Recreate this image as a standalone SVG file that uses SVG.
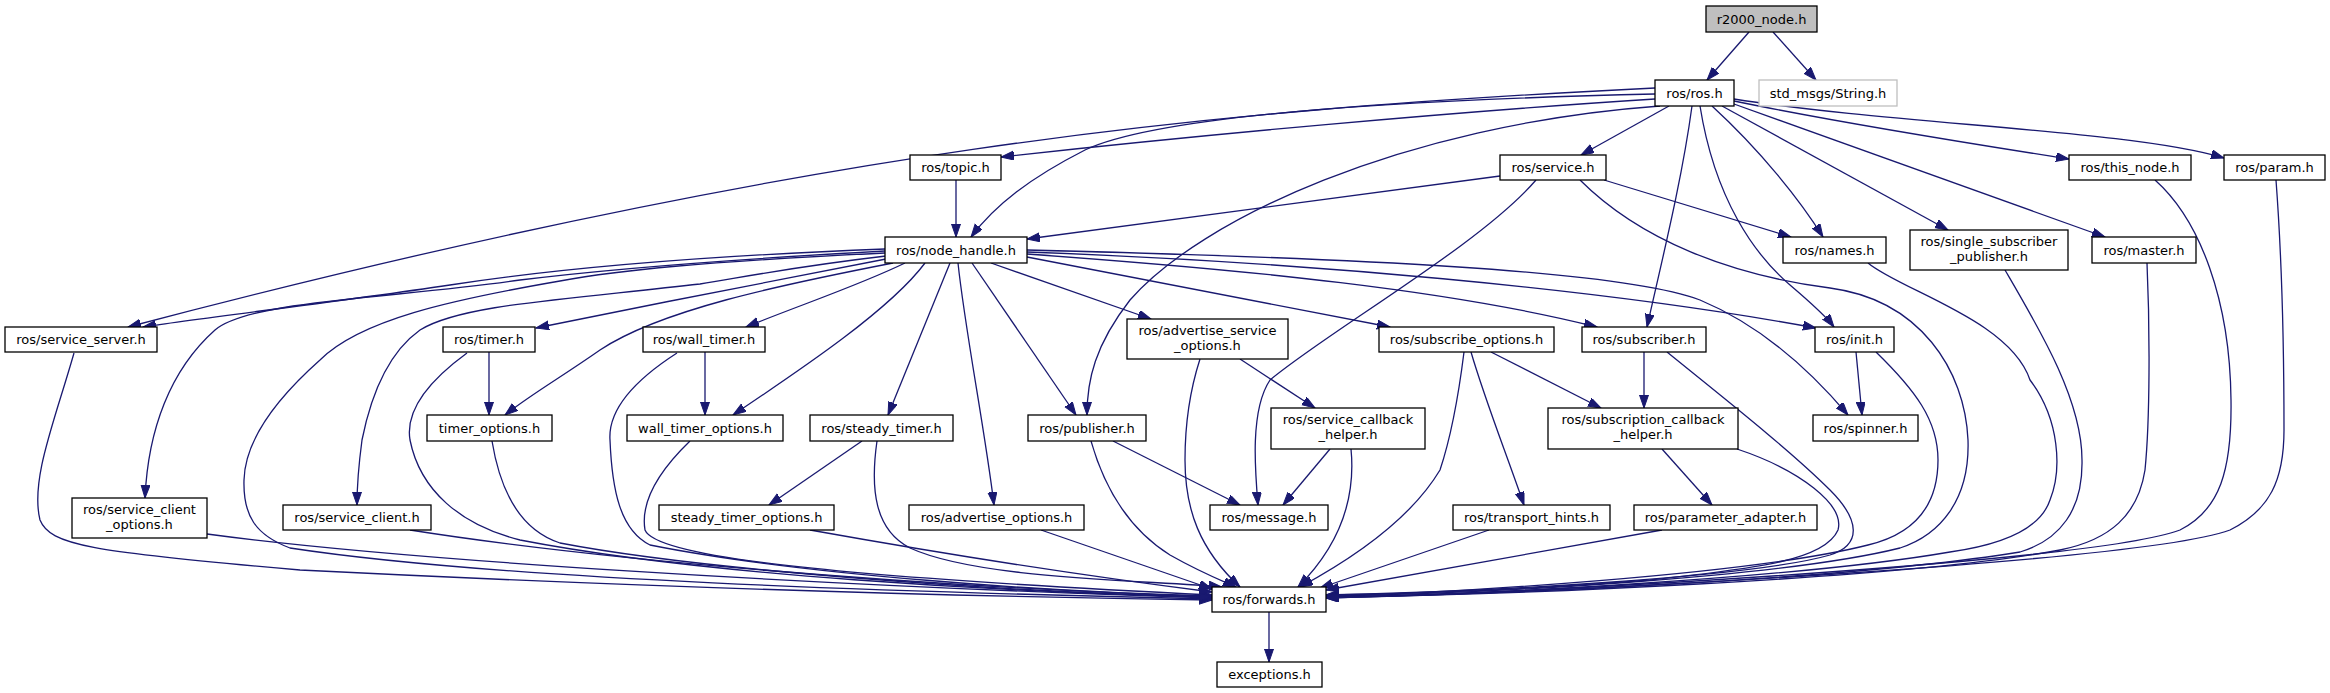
<svg xmlns="http://www.w3.org/2000/svg" width="2330" height="693" viewBox="0 0 2330 693">
<defs>
<marker id="ah" markerUnits="userSpaceOnUse" markerWidth="14" markerHeight="10" refX="13" refY="4.5" orient="auto">
<path d="M0,0 L13,4.5 L0,9 z" fill="#191970" stroke="#191970" stroke-width="1"/>
</marker>
</defs>
<style>
.n rect{fill:#ffffff;stroke:#000000;stroke-width:1.3}
.n text{font-family:"DejaVu Sans","Liberation Sans",sans-serif;font-size:13px;fill:#000000;text-anchor:middle}
#r2000 rect{fill:#bfbfbf}
#string rect{stroke:#bfbfbf}
#edges path{fill:none;stroke:#191970;stroke-width:1.3;marker-end:url(#ah)}
</style>
<rect width="2330" height="693" fill="#ffffff"/>
<g id="edges">
<path d="M1749,32 L1707,80"/>
<path d="M1773,32 L1816,80"/>
<path d="M1655,99 C1450,112 1200,135 1001,157"/>
<path d="M1655,94 C1400,100 1160,115 1085,150 C1030,178 995,205 971,237"/>
<path d="M1655,88 C1200,110 800,150 128,327"/>
<path d="M1660,106 C1400,125 1200,220 1130,300 C1095,345 1087,380 1087,415"/>
<path d="M1669,106 L1581,155"/>
<path d="M1692,106 C1682,180 1662,260 1647,327"/>
<path d="M1700,106 C1715,200 1755,255 1790,285 C1810,302 1825,315 1834,327"/>
<path d="M1712,106 C1760,150 1800,200 1823,237"/>
<path d="M1722,106 L1948,230"/>
<path d="M1734,104 L2105,237"/>
<path d="M1734,101 C1850,125 1980,145 2069,159"/>
<path d="M1734,99 C1900,125 2130,130 2224,158"/>
<path d="M956,180 L956,237"/>
<path d="M1500,176 L1027,239"/>
<path d="M1604,180 L1791,237"/>
<path d="M1536,180 C1480,245 1330,330 1270,380 C1250,410 1255,470 1258,505"/>
<path d="M1580,180 C1640,240 1730,275 1830,288 C1920,300 1965,370 1968,440 C1970,500 1940,535 1900,548 C1780,578 1480,594 1326,596"/>
<path d="M885,249 C700,256 560,268 450,285 C330,303 200,318 143,327"/>
<path d="M885,251 C720,260 600,270 520,280 C400,298 250,300 215,330 C170,370 148,430 145,498"/>
<path d="M885,253 C700,262 620,270 560,281 C450,300 360,320 320,360 C275,400 245,440 244,480 C243,515 255,535 290,548 C500,580 900,592 1212,599"/>
<path d="M886,256 C800,266 760,274 700,284 C560,300 460,305 420,330 C385,355 370,400 362,440 C358,470 357,490 357,505"/>
<path d="M886,259 C800,275 650,305 536,328"/>
<path d="M893,263 C780,285 660,310 600,350 C560,378 530,395 505,415"/>
<path d="M905,263 C860,285 800,305 746,327"/>
<path d="M925,263 C890,310 800,370 733,415"/>
<path d="M950,263 L888,415"/>
<path d="M958,263 C965,330 985,430 994,505"/>
<path d="M972,263 L1076,415"/>
<path d="M991,263 L1151,319"/>
<path d="M1027,257 L1390,327"/>
<path d="M1027,254 C1250,270 1450,290 1597,327"/>
<path d="M1027,252 C1300,262 1600,288 1816,328"/>
<path d="M1027,250 C1350,258 1620,270 1700,300 C1760,325 1810,370 1848,415"/>
<path d="M489,352 L489,415"/>
<path d="M467,353 C430,380 405,410 410,440 C420,490 460,525 520,540 C700,575 1000,592 1212,597"/>
<path d="M492,441 C500,490 520,530 560,543 C700,570 1000,592 1212,597"/>
<path d="M705,352 L705,415"/>
<path d="M677,353 C635,380 608,410 610,440 C612,490 620,530 650,545 C800,575 1050,592 1212,596"/>
<path d="M690,441 C660,470 640,500 645,530 C655,555 800,575 1212,595"/>
<path d="M74,353 C55,420 30,480 40,520 C50,545 90,552 300,570 C700,590 1000,597 1212,600"/>
<path d="M207,534 C400,560 800,585 1212,598"/>
<path d="M410,530 C600,560 900,585 1212,597"/>
<path d="M862,441 L769,505"/>
<path d="M877,441 C870,490 875,530 910,548 C980,580 1150,580 1222,587"/>
<path d="M810,530 C950,555 1100,578 1212,592"/>
<path d="M1041,530 L1212,589"/>
<path d="M1113,441 L1240,505"/>
<path d="M1091,441 C1105,490 1130,530 1170,555 C1200,572 1220,580 1236,587"/>
<path d="M1240,359 L1315,408"/>
<path d="M1200,359 C1190,390 1185,420 1185,460 C1185,510 1200,550 1240,587"/>
<path d="M1330,449 L1283,505"/>
<path d="M1351,449 C1355,490 1345,540 1298,587"/>
<path d="M1471,352 C1485,400 1505,450 1524,505"/>
<path d="M1491,352 L1601,408"/>
<path d="M1464,352 C1458,400 1450,440 1440,470 C1410,520 1350,560 1300,587"/>
<path d="M1489,530 L1320,588"/>
<path d="M1644,352 L1644,408"/>
<path d="M1667,352 C1720,395 1790,450 1830,490 C1860,520 1862,545 1830,555 C1750,578 1480,592 1326,595"/>
<path d="M1662,449 L1712,505"/>
<path d="M1737,449 C1800,470 1845,505 1838,530 C1825,560 1760,568 1650,580 C1500,592 1400,594 1326,595"/>
<path d="M1662,530 L1326,590"/>
<path d="M1856,352 L1862,415"/>
<path d="M1876,352 C1915,390 1938,420 1938,460 C1938,510 1910,535 1868,545 C1750,575 1450,593 1326,596"/>
<path d="M1868,263 C1900,290 2010,320 2030,380 C2060,420 2062,470 2050,500 C2040,530 2000,545 1950,552 C1800,578 1480,595 1326,597"/>
<path d="M2005,270 C2040,330 2082,400 2082,460 C2083,510 2060,540 2020,552 C1850,580 1480,595 1326,597"/>
<path d="M2147,263 C2150,330 2150,420 2145,470 C2138,515 2110,540 2060,550 C1900,580 1500,595 1326,597"/>
<path d="M2155,180 C2200,220 2230,300 2231,400 C2232,470 2220,510 2180,530 C2100,560 1600,590 1326,598"/>
<path d="M2276,180 C2282,260 2284,350 2284,430 C2284,480 2270,510 2230,530 C2150,560 1600,592 1326,598"/>
<path d="M1269,612 L1269,662"/>
</g>
<g id="r2000" class="n"><rect x="1706" y="6" width="111" height="26"/><text x="1761.5" y="23.5">r2000_node.h</text></g>
<g id="ros" class="n"><rect x="1655" y="80" width="79" height="26"/><text x="1694.5" y="97.5">ros/ros.h</text></g>
<g id="string" class="n"><rect x="1759" y="80" width="138" height="26"/><text x="1828" y="97.5">std_msgs/String.h</text></g>
<g id="topic" class="n"><rect x="910" y="155" width="91" height="25"/><text x="955.5" y="172">ros/topic.h</text></g>
<g id="service" class="n"><rect x="1500" y="155" width="106" height="25"/><text x="1553" y="172">ros/service.h</text></g>
<g id="this_node" class="n"><rect x="2069" y="155" width="122" height="25"/><text x="2130" y="172">ros/this_node.h</text></g>
<g id="param" class="n"><rect x="2224" y="155" width="101" height="25"/><text x="2274.5" y="172">ros/param.h</text></g>
<g id="node_handle" class="n"><rect x="885" y="237" width="142" height="26"/><text x="956" y="254.5">ros/node_handle.h</text></g>
<g id="names" class="n"><rect x="1783" y="237" width="103" height="26"/><text x="1834.5" y="254.5">ros/names.h</text></g>
<g id="ssp" class="n"><rect x="1910" y="230" width="158" height="40"/><text x="1989" y="246">ros/single_subscriber</text><text x="1989" y="261">_publisher.h</text></g>
<g id="master" class="n"><rect x="2092" y="237" width="104" height="26"/><text x="2144" y="254.5">ros/master.h</text></g>
<g id="service_server" class="n"><rect x="5" y="327" width="152" height="25"/><text x="81" y="344">ros/service_server.h</text></g>
<g id="timer" class="n"><rect x="443" y="327" width="92" height="25"/><text x="489" y="344">ros/timer.h</text></g>
<g id="wall_timer" class="n"><rect x="643" y="327" width="122" height="25"/><text x="704" y="344">ros/wall_timer.h</text></g>
<g id="adv_srv_opts" class="n"><rect x="1127" y="319" width="161" height="40"/><text x="1207.5" y="335">ros/advertise_service</text><text x="1207.5" y="350">_options.h</text></g>
<g id="subscribe_opts" class="n"><rect x="1379" y="327" width="175" height="25"/><text x="1466.5" y="344">ros/subscribe_options.h</text></g>
<g id="subscriber" class="n"><rect x="1582" y="327" width="124" height="25"/><text x="1644" y="344">ros/subscriber.h</text></g>
<g id="init" class="n"><rect x="1815" y="327" width="79" height="25"/><text x="1854.5" y="344">ros/init.h</text></g>
<g id="timer_options" class="n"><rect x="427" y="415" width="125" height="26"/><text x="489.5" y="432.5">timer_options.h</text></g>
<g id="wall_timer_options" class="n"><rect x="627" y="415" width="156" height="26"/><text x="705" y="432.5">wall_timer_options.h</text></g>
<g id="steady_timer" class="n"><rect x="810" y="415" width="143" height="26"/><text x="881.5" y="432.5">ros/steady_timer.h</text></g>
<g id="publisher" class="n"><rect x="1028" y="415" width="118" height="26"/><text x="1087" y="432.5">ros/publisher.h</text></g>
<g id="srv_cb_helper" class="n"><rect x="1271" y="408" width="154" height="41"/><text x="1348" y="424">ros/service_callback</text><text x="1348" y="439">_helper.h</text></g>
<g id="sub_cb_helper" class="n"><rect x="1548" y="408" width="190" height="41"/><text x="1643" y="424">ros/subscription_callback</text><text x="1643" y="439">_helper.h</text></g>
<g id="spinner" class="n"><rect x="1813" y="415" width="105" height="26"/><text x="1865.5" y="432.5">ros/spinner.h</text></g>
<g id="srv_client_opts" class="n"><rect x="72" y="498" width="135" height="40"/><text x="139.5" y="514">ros/service_client</text><text x="139.5" y="529">_options.h</text></g>
<g id="srv_client" class="n"><rect x="283" y="505" width="148" height="25"/><text x="357" y="522">ros/service_client.h</text></g>
<g id="steady_timer_options" class="n"><rect x="659" y="505" width="175" height="25"/><text x="746.5" y="522">steady_timer_options.h</text></g>
<g id="adv_opts" class="n"><rect x="909" y="505" width="175" height="25"/><text x="996.5" y="522">ros/advertise_options.h</text></g>
<g id="message" class="n"><rect x="1210" y="505" width="118" height="25"/><text x="1269" y="522">ros/message.h</text></g>
<g id="transport_hints" class="n"><rect x="1453" y="505" width="157" height="25"/><text x="1531.5" y="522">ros/transport_hints.h</text></g>
<g id="param_adapter" class="n"><rect x="1634" y="505" width="183" height="25"/><text x="1725.5" y="522">ros/parameter_adapter.h</text></g>
<g id="forwards" class="n"><rect x="1212" y="587" width="114" height="25"/><text x="1269" y="604">ros/forwards.h</text></g>
<g id="exceptions" class="n"><rect x="1217" y="662" width="105" height="25"/><text x="1269.5" y="679">exceptions.h</text></g>
</svg>
